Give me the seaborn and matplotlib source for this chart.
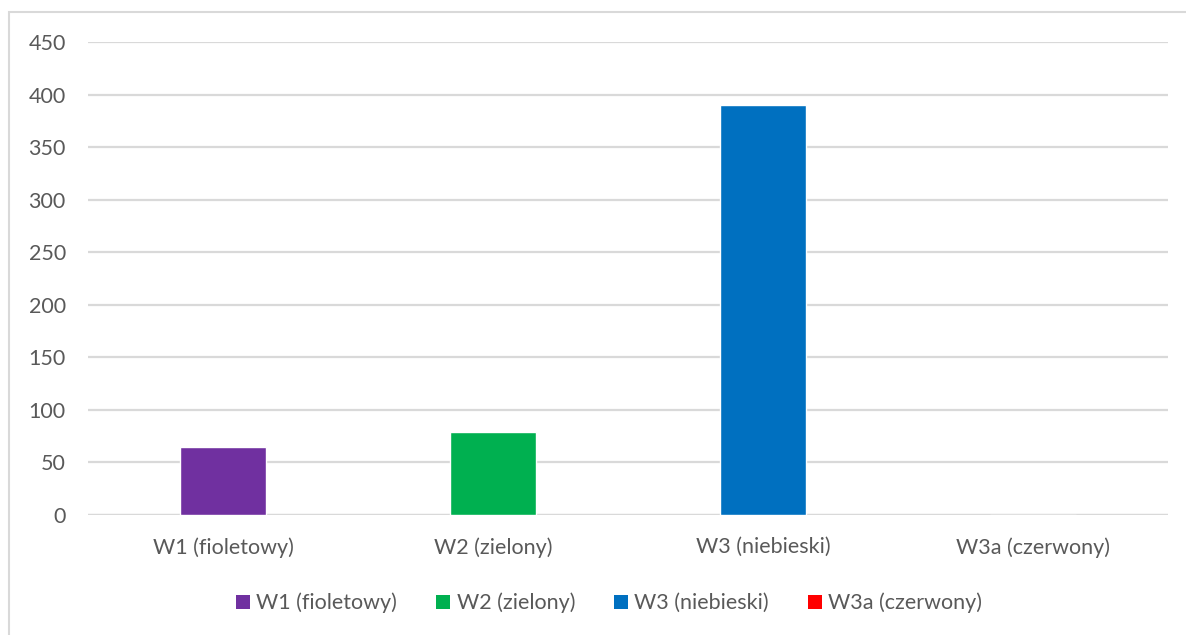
import matplotlib
matplotlib.use("Agg")
import matplotlib.pyplot as plt
import seaborn as sns
import pandas as pd
from matplotlib.patches import Patch, Rectangle

categories = ["W1 (fioletowy)", "W2 (zielony)", "W3 (niebieski)", "W3a (czerwony)"]
values = [65, 79, 390, 0]
colors = ["#7030A0", "#00B050", "#0070C0", "#FF0000"]
yticks = [0, 50, 100, 150, 200, 250, 300, 350, 400, 450]

sns.set_theme(style="white")
plt.rcParams['font.family'] = ['Lato', 'DejaVu Sans']
text_color = "#595959"
grid_color = "#D9D9D9"
fs = 15.5

fig = plt.figure(figsize=(11.86, 6.35), dpi=100)
ax = fig.add_axes([88/1186, 1-515/635, (1168-88)/1186, (515-42)/635])

df = pd.DataFrame({"cat": categories, "val": values})
sns.barplot(data=df, x="cat", y="val", hue="cat", palette=colors,
            width=0.315, legend=False, ax=ax, saturation=1)

ax.set_ylim(0, 450)
ax.set_xlim(-0.5, 3.5)
ax.set_yticks(yticks)
ax.set_yticklabels([str(t) for t in yticks])
ax.yaxis.grid(True, color=grid_color, linewidth=1.6)
ax.set_axisbelow(True)
for s in ax.spines.values():
    s.set_visible(False)
ax.axhline(0, color=grid_color, linewidth=1.6, zorder=0)
ax.set_xlabel("")
ax.set_ylabel("")
ax.tick_params(axis="y", length=0, pad=16, labelsize=fs, labelcolor=text_color)
ax.tick_params(axis="x", length=0, pad=16, labelsize=fs, labelcolor=text_color)

handles = [Patch(facecolor=c, edgecolor="none") for c in colors]
fig.legend(handles, categories, loc="center", bbox_to_anchor=(609/1186, 1-603/635),
           ncol=4, frameon=False, fontsize=fs, labelcolor=text_color,
           handlelength=0.65, handleheight=0.65, handletextpad=0.3, columnspacing=1.8)

fig.patches.append(Rectangle((9/1186, -0.1), 1.5, 1-12/635+0.1, transform=fig.transFigure,
                             fill=False, edgecolor="#D9D9D9", linewidth=1.5))

fig.savefig("out.png", dpi=100)
